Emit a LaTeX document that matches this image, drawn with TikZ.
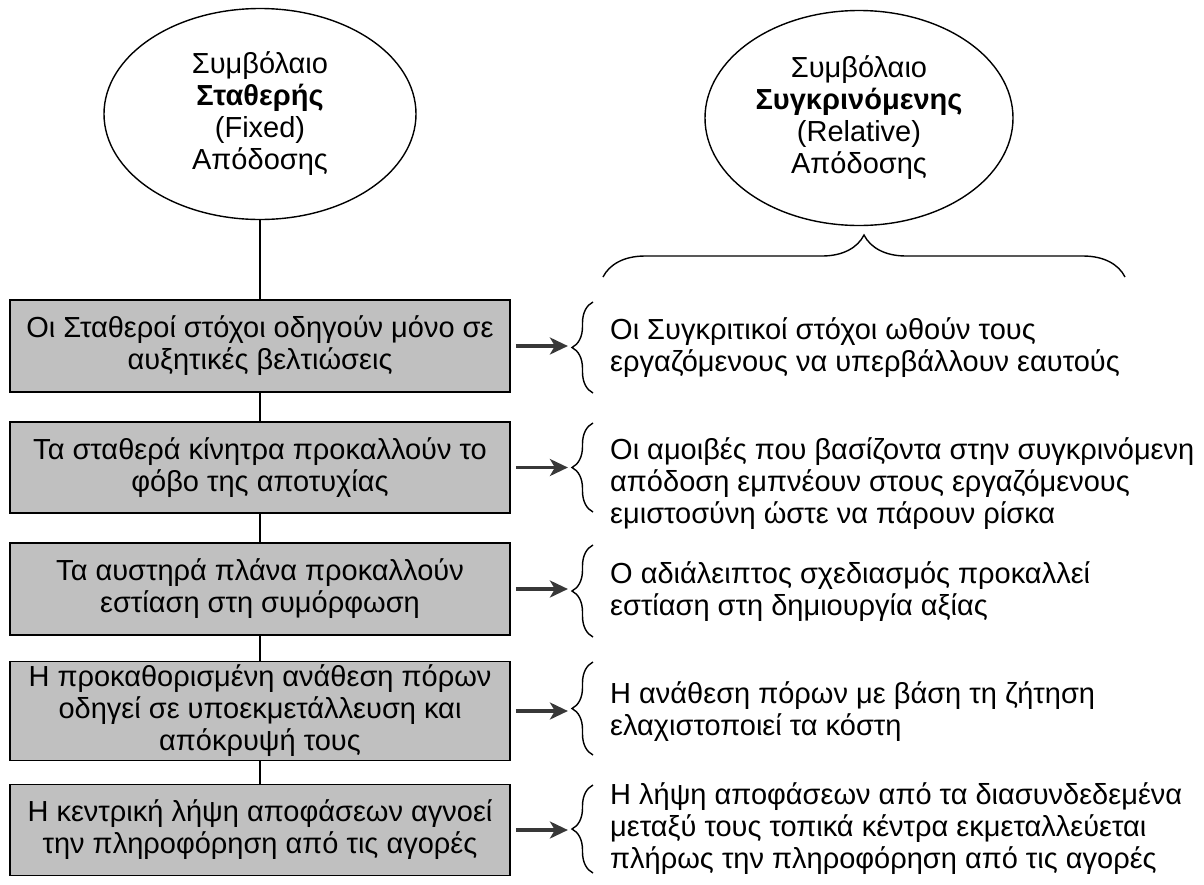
\documentclass[tikz,border=0pt]{standalone}
\usepackage{fontspec}
\setmainfont{Liberation Sans}
\usetikzlibrary{shapes.geometric,arrows.meta,decorations.pathreplacing}
\definecolor{boxgray}{HTML}{C0C0C0}
\definecolor{arrowgray}{HTML}{383838}
\begin{document}
\begin{tikzpicture}[x=1pt,y=-1pt,
  txt/.style={font=\fontsize{29}{32}\selectfont},
  contract/.style={ellipse, draw, line width=1.4pt, inner sep=0pt, align=center, txt},
  stepbox/.style={rectangle, draw, line width=1.8pt, fill=boxgray, minimum width=500pt,
    inner sep=0pt, align=center, txt},
  note/.style={anchor=west, inner sep=0pt, align=left, txt},
  link/.style={line width=1.4pt},
  arr/.style={draw=arrowgray, line width=3.2pt, -{Stealth[length=18pt,width=17pt,inset=5pt]}},
  curly/.style={line width=1.4pt, decorate, decoration={brace, amplitude=#1}},
]
\useasboundingbox (0,0) rectangle (1204,884);

% the two contract types
\node[contract, minimum width=312pt, minimum height=211pt] (e1) at (260,114)
  {Συμβόλαιο\\\textbf{Σταθερής}\\(Fixed)\\Απόδοσης};
\node[contract, minimum width=308pt, minimum height=215pt] (e2) at (859,118)
  {Συμβόλαιο\\\textbf{Συγκρινόμενης}\\(Relative)\\Απόδοσης};

% left column: fixed-performance consequences
\node[stepbox, minimum height=92pt] (b1) at (260,346)
  {Οι Σταθεροί στόχοι οδηγούν μόνο σε\\αυξητικές βελτιώσεις};
\node[stepbox, minimum height=91pt] (b2) at (260,467.5)
  {Τα σταθερά κίνητρα προκαλλούν το\\φόβο της αποτυχίας};
\node[stepbox, minimum height=92pt] (b3) at (260,589)
  {Τα αυστηρά πλάνα προκαλλούν\\εστίαση στη συμόρφωση};
\node[stepbox, minimum height=99pt] (b4) at (260,711)
  {Η προκαθορισμένη ανάθεση πόρων\\οδηγεί σε υποεκμετάλλευση και\\απόκρυψή τους};
\node[stepbox, minimum height=91pt] (b5) at (260,830)
  {Η κεντρική λήψη αποφάσεων αγνοεί\\την πληροφόρηση από τις αγορές};

\draw[link] (e1) -- (b1);
\draw[link] (b1) -- (b2);
\draw[link] (b2) -- (b3);
\draw[link] (b3) -- (b4);
\draw[link] (b4) -- (b5);

% large brace under the relative-performance contract
\coordinate (bl) at (603,277);
\coordinate (br) at (1125,277);
\draw[curly=42pt] (bl) -- (br);

% small braces with the relative-performance counterparts
\foreach \i/\top/\bot in {1/302/393, 2/423/512, 3/545/637, 4/662/755, 5/785/873}{
  \coordinate (lo\i) at (593,\bot);
  \coordinate (hi\i) at (593,\top);
  \draw[curly=21pt] (lo\i) -- (hi\i);
}

% arrows from each box to the tip of its brace
\foreach \i in {1,...,5}{
  \coordinate (k\i) at ([xshift=57pt]b\i.east);
  \draw[arr] ([xshift=5pt]b\i.east) -- (k\i);
}

\node[note] (t1) at (610,347.5)
  {Οι Συγκριτικοί στόχοι ωθούν τους\\εργαζόμενους να υπερβάλλουν εαυτούς};
\node[note] (t2) at (610,484)
  {Οι αμοιβές που βασίζοντα στην συγκρινόμενη\\απόδοση εμπνέουν στους εργαζόμενους\\εμιστοσύνη ώστε να πάρουν ρίσκα};
\node[note] (t3) at (610,592)
  {Ο αδιάλειπτος σχεδιασμός προκαλλεί\\εστίαση στη δημιουργία αξίας};
\node[note] (t4) at (610,712)
  {Η ανάθεση πόρων με βάση τη ζήτηση\\ελαχιστοποιεί τα κόστη};
\node[note] (t5) at (610,829)
  {Η λήψη αποφάσεων από τα διασυνδεδεμένα\\μεταξύ τους τοπικά κέντρα εκμεταλλεύεται\\πλήρως την πληροφόρηση από τις αγορές};
\end{tikzpicture}
\end{document}
